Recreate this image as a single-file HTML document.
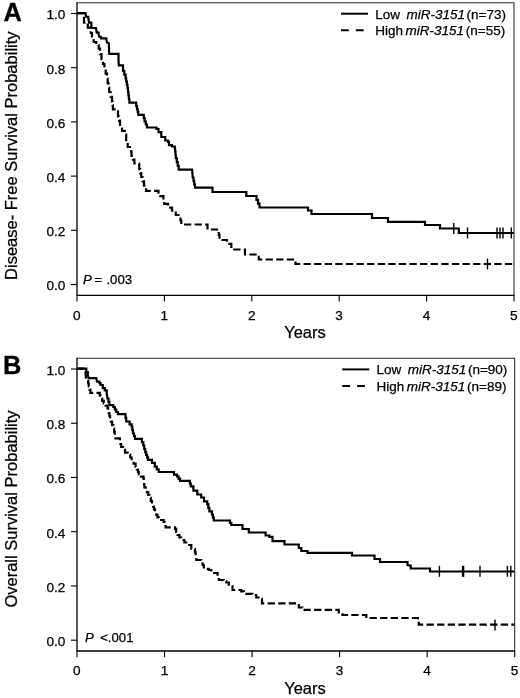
<!DOCTYPE html>
<html><head><meta charset="utf-8"><title>Figure</title>
<style>
html,body{margin:0;padding:0;background:#fff;}
svg{display:block}
text{font-family:"Liberation Sans",sans-serif;fill:#000;stroke:#000;stroke-width:0.25px}
.t{font-size:13.6px}
.ax{font-size:16.5px}
.lab{font-size:25.4px;font-weight:bold;stroke:#000;stroke-width:0.3px}
.p{font-size:13.2px}
.lg{font-size:13.5px}
.lgs{font-size:12px}
</style></head><body>
<svg width="520" height="698" viewBox="0 0 520 698">
<rect width="520" height="698" fill="#fff"/>
<path d="M77.0,2.8 H514.0 V295.3" fill="none" stroke="#2a2a2a" stroke-width="1.05"/>
<path d="M77.0,2.3 V295.3 H514.5" fill="none" stroke="#000" stroke-width="1.3"/>
<line x1="71.0" y1="284.50" x2="77.0" y2="284.50" stroke="#000" stroke-width="1.1"/>
<text x="65.4" y="290.40" text-anchor="end" class="t">0.0</text>
<line x1="71.0" y1="230.30" x2="77.0" y2="230.30" stroke="#000" stroke-width="1.1"/>
<text x="65.4" y="236.20" text-anchor="end" class="t">0.2</text>
<line x1="71.0" y1="176.10" x2="77.0" y2="176.10" stroke="#000" stroke-width="1.1"/>
<text x="65.4" y="182.00" text-anchor="end" class="t">0.4</text>
<line x1="71.0" y1="121.90" x2="77.0" y2="121.90" stroke="#000" stroke-width="1.1"/>
<text x="65.4" y="127.80" text-anchor="end" class="t">0.6</text>
<line x1="71.0" y1="67.70" x2="77.0" y2="67.70" stroke="#000" stroke-width="1.1"/>
<text x="65.4" y="73.60" text-anchor="end" class="t">0.8</text>
<line x1="71.0" y1="13.50" x2="77.0" y2="13.50" stroke="#000" stroke-width="1.1"/>
<text x="65.4" y="19.40" text-anchor="end" class="t">1.0</text>
<line x1="77.00" y1="295.3" x2="77.00" y2="301.5" stroke="#000" stroke-width="1.1"/>
<text x="76.90" y="319.6" text-anchor="middle" class="t">0</text>
<line x1="164.40" y1="295.3" x2="164.40" y2="301.5" stroke="#000" stroke-width="1.1"/>
<text x="164.30" y="319.6" text-anchor="middle" class="t">1</text>
<line x1="251.80" y1="295.3" x2="251.80" y2="301.5" stroke="#000" stroke-width="1.1"/>
<text x="251.70" y="319.6" text-anchor="middle" class="t">2</text>
<line x1="339.20" y1="295.3" x2="339.20" y2="301.5" stroke="#000" stroke-width="1.1"/>
<text x="339.10" y="319.6" text-anchor="middle" class="t">3</text>
<line x1="426.60" y1="295.3" x2="426.60" y2="301.5" stroke="#000" stroke-width="1.1"/>
<text x="426.50" y="319.6" text-anchor="middle" class="t">4</text>
<line x1="514.00" y1="295.3" x2="514.00" y2="301.5" stroke="#000" stroke-width="1.1"/>
<text x="513.90" y="319.6" text-anchor="middle" class="t">5</text>
<text x="305" y="337.6" text-anchor="middle" class="ax">Years</text>
<text transform="translate(16.6,155.7) rotate(-90)" text-anchor="middle" class="ax">Disease- Free Survival Probability</text>
<text x="3.6" y="20.7" class="lab">A</text>
<text x="83" y="283.8" class="p"><tspan font-style="italic">P</tspan> <tspan dx="-1">=</tspan> <tspan dx="0.6">.003</tspan></text>
<line x1="341" y1="13.7" x2="368" y2="13.7" stroke="#000" stroke-width="2"/>
<line x1="341" y1="30.2" x2="368" y2="30.2" stroke="#000" stroke-width="2" stroke-dasharray="7.8,7"/>
<text y="18.6" class="lg"><tspan x="375.3">Low</tspan><tspan x="406.4" font-style="italic">miR-3151</tspan><tspan x="466.6">(n=73)</tspan></text>
<text y="35.0" class="lg"><tspan x="375.2">High</tspan><tspan x="405.5" font-style="italic">miR-3151</tspan><tspan x="465.8">(n=55)</tspan></text>
<path d="M77.0,13.2 L85.5,13.2 L86.0,16.5 L88.2,16.8 L89.0,22.6 L91.3,22.6 L91.3,24.2 L91.7,28.0 L96.0,28.0 L96.7,32.6 L98.6,32.6 L98.6,33.8 L99.4,36.8 L101.0,36.8 L101.0,38.4 L104.8,38.4 L106.3,38.4 L106.3,39.4 L107.0,42.5 L108.8,43.0 L109.2,53.8 L117.0,53.8 L118.5,53.8 L118.5,59.2 L118.8,65.4 L121.7,65.4 L123.0,65.4 L123.0,70.8 L124.3,70.8 L124.3,74.7 L125.6,74.7 L125.6,78.5 L126.2,78.5 L126.2,81.7 L126.9,81.7 L126.9,84.8 L127.5,84.8 L127.5,88.0 L128.0,88.0 L128.0,91.7 L128.4,91.7 L128.4,95.3 L128.9,95.3 L128.9,99.0 L129.4,99.0 L129.4,102.7 L135.3,102.7 L136.2,102.7 L136.2,106.0 L137.0,106.0 L137.0,109.2 L137.7,109.2 L137.7,112.1 L138.3,112.1 L138.3,114.9 L143.0,114.9 L143.8,114.9 L143.8,118.2 L144.6,118.2 L144.6,121.5 L145.8,121.5 L145.8,124.5 L147.0,124.5 L147.0,127.5 L156.5,127.5 L156.5,129.0 L158.5,129.0 L158.5,132.2 L161.3,132.2 L161.3,137.0 L164.2,137.0 L165.2,137.0 L165.2,140.5 L168.0,140.5 L168.0,141.8 L169.0,141.8 L169.0,145.1 L172.0,145.1 L172.0,146.5 L174.8,146.5 L174.8,148.5 L175.1,148.5 L175.1,151.7 L175.5,151.7 L175.5,155.0 L175.8,155.0 L175.8,158.2 L176.8,158.2 L176.8,162.1 L177.7,162.1 L177.7,165.9 L178.7,165.9 L178.7,169.7 L192.1,169.7 L192.7,177.5 L193.5,177.5 L193.5,180.9 L194.2,180.9 L194.2,184.3 L195.0,184.3 L195.0,187.7 L211.3,187.7 L212.5,187.7 L212.5,192.0 L245.0,192.0 L246.3,192.0 L246.3,196.0 L255.0,196.0 L256.5,196.0 L256.5,199.8 L258.0,199.8 L258.0,203.7 L259.5,203.7 L259.5,207.5 L307.0,207.5 L308.0,207.5 L308.0,210.5 L310.5,210.5 L311.5,210.5 L311.5,214.0 L370.5,214.0 L372.0,214.0 L372.0,218.0 L387.0,218.0 L388.0,218.0 L388.0,221.8 L423.8,221.8 L425.0,221.8 L425.0,225.0 L438.8,225.0 L440.0,225.0 L440.0,228.5 L456.3,228.5 L458.8,228.5 L458.8,233.0 L513.8,233.0" fill="none" stroke="#000" stroke-width="2.2" stroke-linejoin="miter"/>
<path d="M77.0,13.2 L84.0,13.2 L84.0,22.6 L87.8,22.6 L87.8,27.6 L90.8,27.6 L90.8,33.0 L92.0,33.0 L92.0,36.5 L93.5,36.5 L93.5,38.8 L93.8,42.0 L96.3,42.0 L96.3,45.0 L98.7,45.0 L98.7,48.7 L100.1,48.7 L100.1,54.0 L101.5,54.0 L101.5,59.2 L103.0,59.2 L103.0,64.0 L104.4,64.0 L104.4,68.8 L105.7,68.8 L105.7,73.7 L107.0,73.7 L107.0,78.5 L107.7,78.5 L107.7,83.0 L108.5,83.0 L108.5,87.5 L109.2,87.5 L109.2,92.0 L110.6,92.0 L110.6,96.8 L112.0,96.8 L112.0,101.5 L112.5,101.5 L112.5,105.4 L112.9,105.4 L112.9,109.3 L118.0,109.3 L118.0,116.3 L119.0,116.3 L119.0,120.7 L120.0,120.7 L120.0,125.0 L122.0,125.0 L122.0,130.8 L124.8,130.8 L124.8,134.6 L126.2,134.6 L126.2,141.3 L127.7,141.3 L127.7,147.0 L130.6,147.0 L131.1,147.0 L131.1,151.4 L131.5,151.4 L131.5,155.8 L132.9,155.8 L132.9,159.7 L134.4,159.7 L134.4,163.5 L139.2,163.5 L139.2,169.2 L140.2,169.2 L140.2,173.1 L141.2,173.1 L141.2,177.0 L142.6,177.0 L142.6,181.3 L144.0,181.3 L144.0,185.6 L146.0,185.6 L146.0,190.8 L155.6,190.8 L158.5,190.8 L158.5,196.2 L162.7,196.2 L163.4,196.2 L163.4,200.0 L164.2,200.0 L164.2,203.8 L168.0,203.8 L168.0,207.7 L172.0,207.7 L172.0,210.6 L175.8,210.6 L175.8,215.0 L179.6,215.0 L179.6,216.3 L180.4,216.3 L180.4,220.4 L181.3,220.4 L181.3,224.5 L203.8,224.5 L207.5,224.5 L207.5,229.5 L218.0,229.5 L218.8,229.5 L218.8,234.8 L219.5,234.8 L219.5,240.0 L225.5,240.0 L227.0,240.0 L227.0,243.8 L231.3,243.8 L231.3,249.5 L243.8,249.5 L245.0,249.5 L245.0,254.5 L256.3,254.5 L258.8,254.5 L258.8,259.5 L292.5,259.5 L295.5,259.5 L295.5,264.0 L513.8,264.0" fill="none" stroke="#000" stroke-width="2.2" stroke-dasharray="7.3,3.3"/>
<line x1="453.8" y1="223.0" x2="453.8" y2="234.0" stroke="#000" stroke-width="1.4"/>
<line x1="467.5" y1="227.5" x2="467.5" y2="238.5" stroke="#000" stroke-width="1.4"/>
<line x1="497" y1="227.5" x2="497" y2="238.5" stroke="#000" stroke-width="1.4"/>
<line x1="500" y1="227.5" x2="500" y2="238.5" stroke="#000" stroke-width="1.4"/>
<line x1="503" y1="227.5" x2="503" y2="238.5" stroke="#000" stroke-width="1.4"/>
<line x1="511.3" y1="227.5" x2="511.3" y2="238.5" stroke="#000" stroke-width="1.4"/>
<line x1="487.5" y1="258.5" x2="487.5" y2="269.5" stroke="#000" stroke-width="1.4"/>
<path d="M77.0,358.2 H514.7 V651.0" fill="none" stroke="#2a2a2a" stroke-width="1.05"/>
<path d="M77.0,357.7 V651.0 H515.2" fill="none" stroke="#000" stroke-width="1.3"/>
<line x1="71.0" y1="640.20" x2="77.0" y2="640.20" stroke="#000" stroke-width="1.1"/>
<text x="65.4" y="646.10" text-anchor="end" class="t">0.0</text>
<line x1="71.0" y1="585.96" x2="77.0" y2="585.96" stroke="#000" stroke-width="1.1"/>
<text x="65.4" y="591.86" text-anchor="end" class="t">0.2</text>
<line x1="71.0" y1="531.72" x2="77.0" y2="531.72" stroke="#000" stroke-width="1.1"/>
<text x="65.4" y="537.62" text-anchor="end" class="t">0.4</text>
<line x1="71.0" y1="477.48" x2="77.0" y2="477.48" stroke="#000" stroke-width="1.1"/>
<text x="65.4" y="483.38" text-anchor="end" class="t">0.6</text>
<line x1="71.0" y1="423.24" x2="77.0" y2="423.24" stroke="#000" stroke-width="1.1"/>
<text x="65.4" y="429.14" text-anchor="end" class="t">0.8</text>
<line x1="71.0" y1="369.00" x2="77.0" y2="369.00" stroke="#000" stroke-width="1.1"/>
<text x="65.4" y="374.90" text-anchor="end" class="t">1.0</text>
<line x1="77.00" y1="651.0" x2="77.00" y2="657.2" stroke="#000" stroke-width="1.1"/>
<text x="76.90" y="675.1" text-anchor="middle" class="t">0</text>
<line x1="164.54" y1="651.0" x2="164.54" y2="657.2" stroke="#000" stroke-width="1.1"/>
<text x="164.44" y="675.1" text-anchor="middle" class="t">1</text>
<line x1="252.08" y1="651.0" x2="252.08" y2="657.2" stroke="#000" stroke-width="1.1"/>
<text x="251.98" y="675.1" text-anchor="middle" class="t">2</text>
<line x1="339.62" y1="651.0" x2="339.62" y2="657.2" stroke="#000" stroke-width="1.1"/>
<text x="339.52" y="675.1" text-anchor="middle" class="t">3</text>
<line x1="427.16" y1="651.0" x2="427.16" y2="657.2" stroke="#000" stroke-width="1.1"/>
<text x="427.06" y="675.1" text-anchor="middle" class="t">4</text>
<line x1="514.70" y1="651.0" x2="514.70" y2="657.2" stroke="#000" stroke-width="1.1"/>
<text x="514.60" y="675.1" text-anchor="middle" class="t">5</text>
<text x="305" y="693.8" text-anchor="middle" class="ax">Years</text>
<text transform="translate(16.6,509) rotate(-90)" text-anchor="middle" class="ax">Overall Survival Probability</text>
<text x="2.9" y="373.6" class="lab">B</text>
<text x="85" y="642" class="p"><tspan font-style="italic">P</tspan> <tspan dx="2.7">&lt;.001</tspan></text>
<line x1="342.3" y1="369.4" x2="369.3" y2="369.4" stroke="#000" stroke-width="2"/>
<line x1="342.3" y1="385.9" x2="369.3" y2="385.9" stroke="#000" stroke-width="2" stroke-dasharray="7.8,7"/>
<text y="374.29999999999995" class="lg"><tspan x="376.6">Low</tspan><tspan x="407.7" font-style="italic">miR-3151</tspan><tspan x="467.90000000000003">(n=90)</tspan></text>
<text y="390.7" class="lg"><tspan x="376.5">High</tspan><tspan x="406.8" font-style="italic">miR-3151</tspan><tspan x="467.1">(n=89)</tspan></text>
<path d="M77.0,368.6 L84.8,368.6 L86.3,368.6 L86.3,372.0 L87.8,372.0 L87.8,374.7 L88.6,378.2 L96.3,378.2 L97.0,381.6 L99.4,381.6 L99.4,383.2 L100.5,383.2 L100.5,385.0 L102.8,385.0 L102.8,388.2 L104.8,388.2 L104.8,390.3 L106.7,390.3 L106.7,393.2 L107.5,398.5 L108.5,398.5 L108.5,401.9 L109.4,401.9 L109.4,405.2 L113.3,405.2 L113.3,407.0 L114.8,407.0 L114.8,409.5 L116.2,409.5 L116.2,412.0 L118.0,412.0 L118.0,414.2 L124.8,414.2 L125.5,414.2 L125.5,417.9 L126.2,417.9 L126.2,421.5 L129.6,421.5 L129.6,424.4 L131.7,424.4 L131.7,426.7 L132.3,426.7 L132.3,430.1 L133.0,430.1 L133.0,433.5 L134.0,433.5 L134.0,436.1 L135.0,436.1 L135.0,438.8 L140.4,438.8 L141.9,438.8 L141.9,442.1 L143.3,442.1 L143.3,445.5 L144.2,445.5 L144.2,448.9 L145.2,448.9 L145.2,452.2 L146.1,452.2 L146.1,454.8 L147.1,454.8 L147.1,457.3 L148.0,457.3 L148.0,459.9 L152.0,459.9 L152.0,462.8 L154.8,462.8 L154.8,466.7 L156.8,466.7 L156.8,469.4 L158.7,469.4 L158.7,472.0 L170.3,472.0 L174.0,472.0 L174.0,474.7 L177.0,474.7 L177.0,476.3 L178.5,476.3 L178.5,478.6 L180.0,478.6 L180.0,480.8 L189.0,480.8 L189.9,480.8 L189.9,483.6 L190.8,483.6 L190.8,486.3 L193.4,486.3 L193.4,490.7 L196.3,490.7 L197.3,490.7 L197.3,494.5 L201.2,494.5 L201.2,497.5 L204.0,497.5 L204.0,501.3 L207.2,501.3 L207.2,504.2 L208.3,504.2 L208.3,507.8 L209.4,507.8 L209.4,511.3 L212.0,511.3 L212.0,514.7 L212.9,514.7 L212.9,517.6 L213.8,517.6 L213.8,520.5 L228.5,520.5 L229.9,520.5 L229.9,522.8 L231.3,522.8 L231.3,525.0 L240.0,525.0 L242.5,525.0 L242.5,529.0 L247.5,529.0 L248.8,529.0 L248.8,532.5 L263.0,532.5 L265.6,532.5 L265.6,535.5 L269.4,535.5 L269.4,536.8 L272.5,536.8 L272.5,541.2 L282.5,541.2 L284.5,541.2 L284.5,544.5 L296.6,544.5 L298.8,544.5 L298.8,548.0 L301.3,548.0 L301.3,551.0 L305.0,551.0 L307.5,551.0 L307.5,552.8 L350.0,552.8 L352.0,552.8 L352.0,555.5 L372.5,555.5 L374.5,555.5 L374.5,559.0 L378.0,559.0 L380.0,559.0 L380.0,562.0 L405.6,562.0 L407.5,562.0 L407.5,565.0 L409.7,565.5 L410.7,565.5 L410.7,568.5 L428.0,568.5 L430.0,568.5 L430.0,571.5 L514.5,571.5" fill="none" stroke="#000" stroke-width="2.2" stroke-linejoin="miter"/>
<path d="M77.0,368.6 L84.8,368.6 L85.5,372.0 L86.2,380.8 L88.2,380.8 L88.2,383.5 L88.8,383.5 L88.8,386.6 L89.4,386.6 L89.4,389.7 L90.4,389.7 L90.4,392.8 L98.8,392.8 L99.8,392.8 L99.8,395.6 L100.8,395.6 L100.8,398.5 L102.2,398.5 L102.2,400.9 L103.7,400.9 L103.7,403.3 L105.6,403.3 L105.6,405.6 L107.5,405.6 L107.5,408.0 L108.1,408.0 L108.1,410.6 L108.8,410.6 L108.8,413.2 L109.4,413.2 L109.4,415.8 L110.1,415.8 L110.1,418.6 L110.7,418.6 L110.7,421.5 L112.1,421.5 L112.1,425.1 L113.5,425.1 L113.5,428.7 L114.1,428.7 L114.1,431.9 L114.8,431.9 L114.8,435.1 L115.4,435.1 L115.4,438.3 L119.2,438.3 L119.9,438.3 L119.9,441.2 L120.5,441.2 L120.5,444.1 L121.2,444.1 L121.2,447.0 L123.1,447.0 L123.1,449.9 L125.0,449.9 L125.0,452.7 L128.8,452.7 L128.8,454.6 L130.2,454.6 L130.2,457.5 L131.7,457.5 L131.7,460.4 L133.6,460.4 L133.6,463.7 L135.6,463.7 L135.6,467.0 L136.8,467.0 L136.8,469.5 L138.0,469.5 L138.0,472.0 L138.8,472.0 L138.8,474.4 L139.6,474.4 L139.6,476.7 L143.5,476.7 L143.5,478.7 L143.8,478.7 L143.8,481.6 L144.1,481.6 L144.1,484.4 L144.4,484.4 L144.4,487.3 L145.7,487.3 L145.7,489.9 L147.0,489.9 L147.0,492.4 L148.3,492.4 L148.3,495.0 L149.5,495.0 L149.5,497.9 L150.8,497.9 L150.8,500.8 L152.0,500.8 L152.0,503.7 L153.0,503.7 L153.0,506.6 L154.0,506.6 L154.0,509.4 L155.0,509.4 L155.0,512.3 L156.3,512.3 L156.3,514.9 L157.5,514.9 L157.5,517.4 L158.8,517.4 L158.8,520.0 L163.7,520.0 L163.7,522.0 L164.6,522.0 L164.6,524.6 L165.6,524.6 L165.6,527.3 L173.3,527.3 L175.0,527.3 L175.0,528.8 L176.2,528.8 L176.2,531.9 L177.5,531.9 L177.5,535.0 L179.4,535.0 L179.4,537.5 L181.3,537.5 L181.3,540.0 L184.4,540.0 L184.4,542.5 L187.5,542.5 L187.5,545.0 L191.3,545.0 L191.3,548.8 L195.0,548.8 L195.0,552.5 L195.7,552.5 L195.7,556.2 L196.3,556.2 L196.3,560.0 L201.3,560.0 L201.3,561.3 L202.6,561.3 L202.6,565.0 L203.8,565.0 L203.8,568.8 L208.8,568.8 L208.8,570.0 L211.3,570.0 L211.3,573.0 L216.3,573.0 L217.6,573.0 L217.6,576.5 L218.8,576.5 L218.8,580.0 L223.8,580.0 L223.8,581.3 L226.3,581.3 L226.3,582.5 L228.8,582.5 L228.8,586.3 L232.5,586.3 L232.5,590.0 L241.3,590.0 L241.3,591.3 L243.8,591.3 L243.8,593.8 L252.5,593.8 L252.5,595.0 L256.3,595.0 L256.3,597.5 L260.0,597.5 L260.0,598.8 L262.0,598.8 L262.0,603.3 L296.3,603.3 L298.8,603.3 L298.8,607.5 L302.5,607.5 L302.5,609.8 L335.0,609.8 L338.8,609.8 L338.8,612.5 L342.5,612.5 L342.5,615.0 L362.5,615.0 L366.3,615.0 L366.3,618.0 L417.0,618.0 L417.9,618.0 L417.9,621.3 L418.8,621.3 L418.8,624.6 L514.5,624.6" fill="none" stroke="#000" stroke-width="2.2" stroke-dasharray="7.3,3.3"/>
<line x1="439.4" y1="565.8" x2="439.4" y2="576.8" stroke="#000" stroke-width="1.4"/>
<line x1="462.6" y1="565.8" x2="462.6" y2="576.8" stroke="#000" stroke-width="1.4"/>
<line x1="463.6" y1="565.8" x2="463.6" y2="576.8" stroke="#000" stroke-width="1.4"/>
<line x1="480" y1="565.8" x2="480" y2="576.8" stroke="#000" stroke-width="1.4"/>
<line x1="507.4" y1="565.8" x2="507.4" y2="576.8" stroke="#000" stroke-width="1.4"/>
<line x1="510.8" y1="565.8" x2="510.8" y2="576.8" stroke="#000" stroke-width="1.4"/>
<line x1="495" y1="619.5" x2="495" y2="630.5" stroke="#000" stroke-width="1.4"/>
</svg>
</body></html>
